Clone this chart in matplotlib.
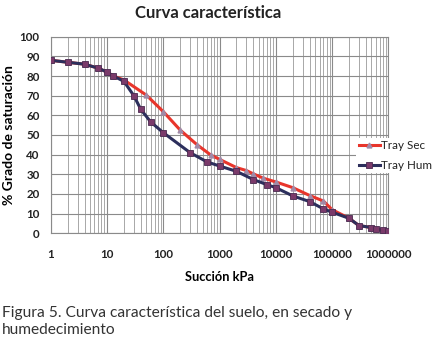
import numpy as np
import matplotlib.pyplot as plt
from matplotlib.ticker import LogLocator, FixedLocator, NullFormatter

# Tray Hum (humedecimiento)
hum_x = [1, 2, 4, 7, 10, 13, 20, 30, 40, 60, 100, 300, 600, 1000, 2000, 4000, 7000,
         10000, 20000, 40000, 70000, 100000, 200000, 300000, 500000, 600000, 800000, 1000000]
hum_y = [88, 87, 86, 84, 82, 80, 77.3, 70, 63, 56.6, 51.2, 41, 36.3, 34.2, 31.5, 27.3, 24.7,
         23.2, 19, 16.1, 12.4, 10.7, 7.6, 3.9, 2.9, 2.4, 1.4, 1.0]

# Tray Sec (secado)
sec_x = [1, 2, 4, 7, 10, 13, 20, 50, 100, 200, 400, 700, 1000, 2000, 3000, 4000, 6000,
         10000, 20000, 40000, 70000, 100000, 200000, 300000, 500000, 600000, 800000, 1000000]
sec_y = [88, 87, 86, 84, 82, 80, 78, 70.3, 61.9, 52.5, 45, 39.8, 37.6, 33.4, 31.9, 30.2, 28,
         26.1, 23.2, 19.2, 16.4, 12, 7.6, 3.9, 2.9, 2.4, 1.4, 1.0]

x_ticks = [1, 10, 100, 1000, 10000, 100000, 1000000]
x_labels = ["1", "10", "100", "1000", "10000", "100000", "1000000"]
y_ticks = list(range(0, 101, 10))

plt.rcParams['font.family'] = ['Lato', 'DejaVu Sans']

fig = plt.figure(figsize=(4.33, 3.43), dpi=100)
ax = fig.add_axes([0.117, 0.32, 0.780, 0.573])

red = '#e8352b'
navy = '#2c2f5c'

ax.plot(sec_x, sec_y, color=red, lw=2.2, marker='^', ms=3.5,
        mfc='#a08aa8', mec='#a08aa8', label='Tray Sec', zorder=3)
ax.plot(hum_x, hum_y, color=navy, lw=2.2, marker='s', ms=4.2,
        mfc='#7a3a6a', mec='#4a2a50', mew=0.6, label='Tray Hum', zorder=4)

ax.set_xscale('log')
ax.set_xlim(1, 1000000)
ax.set_ylim(0, 100)
ax.xaxis.set_major_locator(FixedLocator(x_ticks))
ax.set_xticklabels(x_labels)
ax.xaxis.set_minor_locator(LogLocator(base=10, subs=np.arange(2, 10)))
ax.xaxis.set_minor_formatter(NullFormatter())
ax.set_yticks(y_ticks)

ax.grid(True, which='major', color='#8a8a8a', lw=0.8)
ax.grid(True, which='minor', axis='x', color='#9a9a9a', lw=0.6)
ax.set_axisbelow(True)
for s in ax.spines.values():
    s.set_color('#8a8a8a')
    s.set_linewidth(0.8)

ax.tick_params(axis='both', which='both', length=0)
ax.tick_params(axis='x', pad=11)
ax.tick_params(axis='y', pad=8)
for lbl in ax.get_xticklabels() + ax.get_yticklabels():
    lbl.set_fontsize(8.3)
    lbl.set_fontweight('bold')
    lbl.set_color('#222222')

ax.set_xlabel('Succión kPa', fontsize=9.3, fontweight='bold', labelpad=8)
ax.set_ylabel('% Grado de saturación', fontsize=10, fontweight='bold', labelpad=3)

# legend sits over the right edge of the plot, with a white box
leg = ax.legend(loc='upper left', bbox_to_anchor=(0.905, 0.485), frameon=True,
                fontsize=8.4, handlelength=1.8, handletextpad=0.1, labelspacing=0.75,
                borderaxespad=0, borderpad=0.2)
leg.get_frame().set_edgecolor('none')
leg.get_frame().set_facecolor('white')
leg.get_frame().set_alpha(1)
for t in leg.get_texts():
    t.set_color('#222222')

fig.text(0.48, 0.962, 'Curva característica', ha='center', va='center',
         fontsize=12, fontweight='bold', color='#222222')
fig.text(0.005, 0.063, 'Figura 5. Curva característica del suelo, en secado y\nhumedecimiento',
         ha='left', va='center', fontsize=11.2, color='#333333', linespacing=1.3)

fig.savefig('out.png', dpi=100)
